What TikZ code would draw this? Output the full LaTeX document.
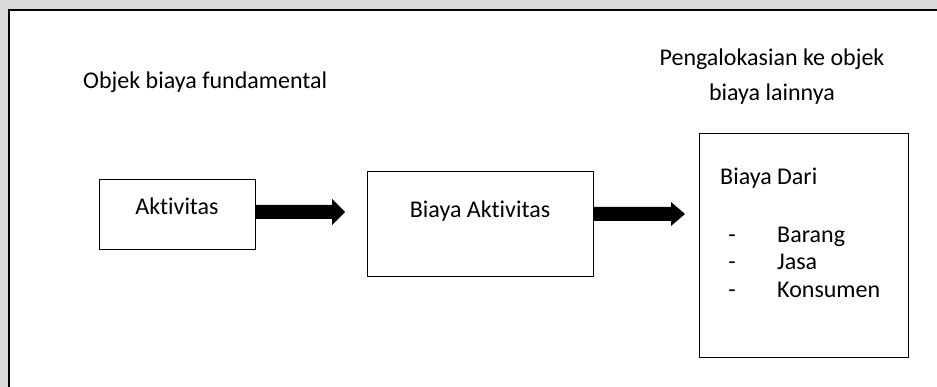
\documentclass[tikz,border=0pt]{standalone}
\usepackage{fontspec}
\setmainfont[Ligatures=NoCommon]{Carlito}
\usetikzlibrary{calc}
\begin{document}
\begin{tikzpicture}[x=1pt,y=-1pt,
  txt/.style={inner sep=0pt,font=\fontsize{24}{28}\selectfont},
  boxnode/.style={draw=black,line width=0.9pt,fill=white,inner sep=0pt},
  fatarrow/.style={fill=black,draw=none}]
\useasboundingbox (0,0) rectangle (937,387);
\fill[black!14] (0,0) rectangle (937,387);
\fill[white,draw=black,line width=1.6pt] (9,10) rectangle (945,395);
% boxes
\node[boxnode,minimum width=156pt,minimum height=70pt] (akt) at (177,214) {};
\node[boxnode,minimum width=226pt,minimum height=105pt] (bakt) at (480,223.5) {};
\node[boxnode,minimum width=209pt,minimum height=224pt] (bdari) at (803.5,245) {};
% texts
\node[txt,anchor=base west] (t1) at (83,89) {Objek biaya fundamental};
\node[txt,anchor=base] (t2) at (772,66) {Pengalokasian ke objek};
\node[txt,anchor=base] (t3) at (772,101) {biaya lainnya};
\node[txt,anchor=base] (ta) at (177,215) {Aktivitas};
\node[txt,anchor=base] (tb) at (480,218) {Biaya Aktivitas};
\node[txt,anchor=base west] (tc) at (720,185) {Biaya Dari};
\node[txt,anchor=base] (d1) at (732,243) {-};
\node[txt,anchor=base west] (i1) at (777,243) {Barang};
\node[txt,anchor=base] (d2) at (732,270) {-};
\node[txt,anchor=base west] (i2) at (777,270) {Jasa};
\node[txt,anchor=base] (d3) at (732,298) {-};
\node[txt,anchor=base west] (i3) at (777,298) {Konsumen};
% arrows
\coordinate (a1s) at (akt.east |- 0,212);
\coordinate (a1e) at (345,212);
\fill[fatarrow] ($(a1s)+(0,-7)$) -- (332,205) -- (332,199) -- (a1e) -- (332,225) -- (332,219) -- ($(a1s)+(0,7)$) -- cycle;
\coordinate (a2s) at (bakt.east |- 0,214);
\coordinate (a2e) at (685,214);
\fill[fatarrow] ($(a2s)+(0,-7)$) -- (671,207) -- (671,202) -- (a2e) -- (671,226) -- (671,221) -- ($(a2s)+(0,7)$) -- cycle;
\end{tikzpicture}
\end{document}
